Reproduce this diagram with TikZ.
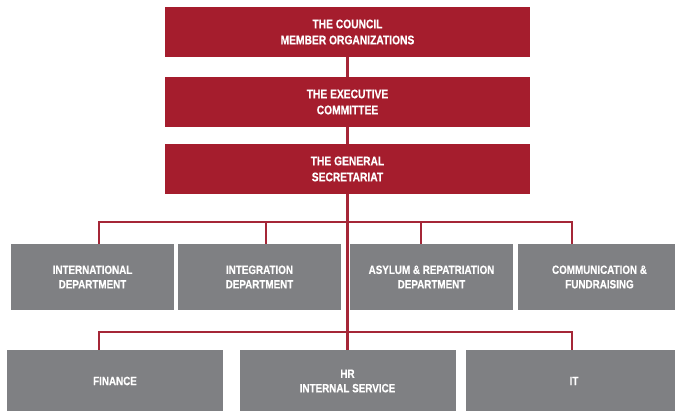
\documentclass[tikz,border=0pt]{standalone}
\usepackage{fontspec}
\setmainfont{Liberation Sans}[FakeStretch=0.82,BoldFeatures={FakeBold=0.4}]
\usepackage{tikz}

\definecolor{boardred}{HTML}{A51D2D}
\definecolor{deptgray}{HTML}{7F8083}
\definecolor{linkred}{HTML}{A52637}

\begin{document}
\begin{tikzpicture}[x=1pt,y=-1pt]
				\tikzstyle{board}=[fill=boardred,text=white,minimum width=365pt,minimum height=50pt,inner sep=0pt,align=center,font=\fontsize{12.5}{16}\selectfont\bfseries]
				\tikzstyle{dept}=[fill=deptgray,text=white,minimum width=163pt,minimum height=66pt,inner sep=0pt,align=center,font=\fontsize{12}{14.5}\selectfont\bfseries]
				\tikzstyle{service}=[dept,minimum width=216pt,minimum height=62pt]
				\tikzstyle{link}=[draw=linkred,line width=2.2pt]

				\useasboundingbox (0,0) rectangle (675,411);

				\node [board] (council) at (347.5,32) {THE COUNCIL\\MEMBER ORGANIZATIONS};
				\node [board] (exec) at (347.5,102) {THE EXECUTIVE\\COMMITTEE};
				\node [board] (secr) at (347.5,169) {THE GENERAL\\SECRETARIAT};

				\node [dept] (dep1) at (92.5,277) {INTERNATIONAL\\DEPARTMENT};
				\node [dept] (dep2) at (259.5,277) {INTEGRATION\\DEPARTMENT};
				\node [dept] (dep3) at (431.5,277) {ASYLUM \& REPATRIATION\\DEPARTMENT};
				\node [dept] (dep4) at (599.5,277) {COMMUNICATION \&\\FUNDRAISING};

				\node [service] (fin) at (115,381) {FINANCE};
				\node [service] (hr) at (347.5,381) {HR\\INTERNAL SERVICE};
				\node [service] (it) at (574,381) {IT};

				% chain of command
				\draw [link] (council) -- (exec);
				\draw [link] (exec) -- (secr);
				\draw [link] (secr.south) -- (hr.north);

				% departments
				\draw [link] ([xshift=6.5]dep1.north) -- ++(0,-22) -| ([xshift=-27.5]dep4.north);
				\draw [link] ([xshift=6.5]dep2.north) -- ++(0,-22);
				\draw [link] ([xshift=-10.5]dep3.north) -- ++(0,-22);

				% services
				\draw [link] ([xshift=-16]fin.north) -- ++(0,-18) -| ([xshift=-2]it.north);

			\end{tikzpicture}
\end{document}
